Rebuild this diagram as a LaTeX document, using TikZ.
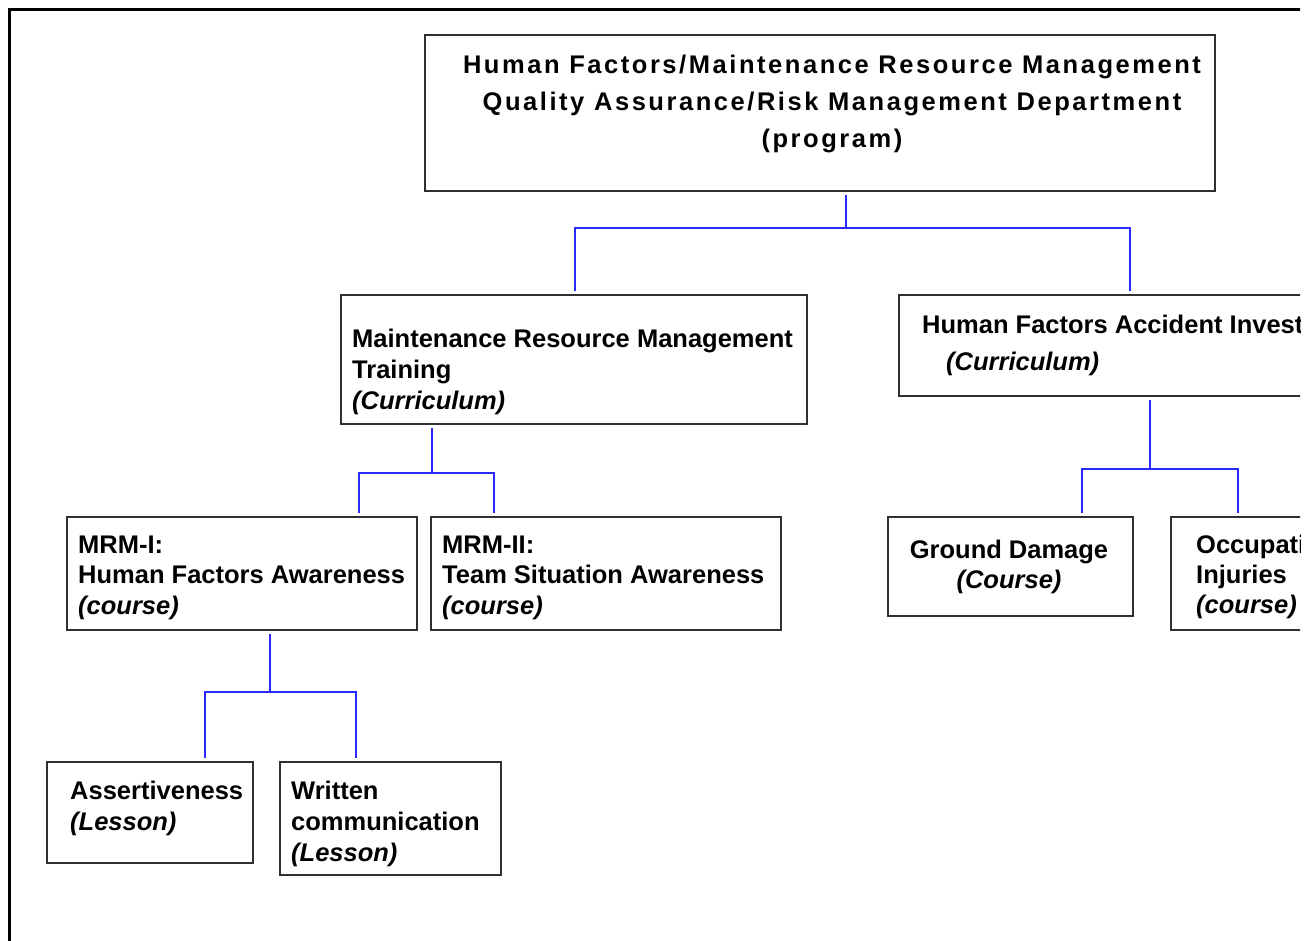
\documentclass[tikz,border=0pt]{standalone}
\usepackage{fontspec}
\setmainfont{Liberation Sans}
\newfontfamily\headfont[LetterSpace=10]{Liberation Sans}
\definecolor{boxline}{RGB}{48,48,48}
\definecolor{linkblue}{RGB}{40,40,255}
% stacked lines with a fixed baseline pitch; the first line carries the baseline
\newcommand\rowsL[2]{\vtop{\baselineskip=#1\relax\lineskiplimit=-50pt\halign{##\hfil\cr#2\crcr}}}
\newcommand\rowsC[2]{\vtop{\baselineskip=#1\relax\lineskiplimit=-50pt\halign{\hfil##\hfil\cr#2\crcr}}}
\begin{document}
\begin{tikzpicture}[x=1pt,y=-1pt,
  box/.style={draw=boxline,line width=2pt,inner sep=0pt,anchor=north west},
  boxtext/.style={inner sep=0pt,anchor=base west,font=\fontsize{25.5}{30}\selectfont\bfseries},
  conn/.style={draw=linkblue,line width=2.2pt,shorten <=3pt,shorten >=3pt}]
\useasboundingbox (0,0) rectangle (1314,940);
\begin{scope}
\clip (0,0) rectangle (1300,940);
% outer frame
\draw[line width=3pt] (9.5,980) -- (9.5,9.5) -- (1340,9.5);

% boxes
\node[box,minimum width=790,minimum height=156] (top) at (424,34) {};
\node[box,minimum width=466,minimum height=129] (mrm) at (340,294) {};
\node[box,minimum width=480,minimum height=101] (hfa) at (898,294) {};
\node[box,minimum width=350,minimum height=113] (mrm1) at (66,516) {};
\node[box,minimum width=350,minimum height=113] (mrm2) at (430,516) {};
\node[box,minimum width=245,minimum height=99] (gd) at (887,516) {};
\node[box,minimum width=250,minimum height=113] (occ) at (1170,516) {};
\node[box,minimum width=206,minimum height=101] (asr) at (46,761) {};
\node[box,minimum width=221,minimum height=113] (wrc) at (279,761) {};

% texts
\node[boxtext,anchor=base,font=\headfont\fontsize{25.5}{37}\selectfont\bfseries] (topT) at (832,73)
  {\rowsC{37pt}{Human Factors/Maintenance Resource Management\cr Quality Assurance/Risk Management Department\cr (program)}};
\node[boxtext] (mrmT) at (352,347)
  {\rowsL{31pt}{Maintenance Resource Management\cr Training\cr \textit{(Curriculum)}}};
\node[boxtext] (hfaT) at (922,333)
  {\rowsL{37pt}{Human Factors Accident Investigation\cr \hspace*{24pt}\textit{(Curriculum)}}};
\node[boxtext] (mrm1T) at (78,553)
  {\rowsL{30.5pt}{MRM-I:\cr Human Factors Awareness\cr \textit{(course)}}};
\node[boxtext] (mrm2T) at (442,553)
  {\rowsL{30.5pt}{MRM-II:\cr Team Situation Awareness\cr \textit{(course)}}};
\node[boxtext,anchor=base] (gdT) at (1009,558)
  {\rowsC{30pt}{Ground Damage\cr \textit{(Course)}}};
\node[boxtext] (occT) at (1196,553)
  {\rowsL{30pt}{Occupational\cr Injuries\cr \textit{(course)}}};
\node[boxtext] (asrT) at (70,799)
  {\rowsL{31pt}{Assertiveness\cr \textit{(Lesson)}}};
\node[boxtext] (wrcT) at (291,799)
  {\rowsL{31pt}{Written\cr communication\cr \textit{(Lesson)}}};

% junction points of the connectors
\coordinate (j1) at (846,228);
\coordinate (j1l) at (575,228);
\coordinate (j1r) at (1130,228);
\coordinate (j2) at (432,473);
\coordinate (j2l) at (359,473);
\coordinate (j2r) at (494,473);
\coordinate (j3) at (1150,469);
\coordinate (j3l) at (1082,469);
\coordinate (j3r) at (1238,469);
\coordinate (j4) at (270,692);
\coordinate (j4l) at (205,692);
\coordinate (j4r) at (356,692);

% connectors
\draw[conn,shorten >=0pt] (top.south -| j1) -- (j1);
\draw[conn] (mrm.north -| j1l) -- (j1l) -- (j1r) -- (hfa.north -| j1r);
\draw[conn,shorten >=0pt] (mrm.south -| j2) -- (j2);
\draw[conn] (mrm1.north -| j2l) -- (j2l) -- (j2r) -- (mrm2.north -| j2r);
\draw[conn,shorten >=0pt] (hfa.south -| j3) -- (j3);
\draw[conn] (gd.north -| j3l) -- (j3l) -- (j3r) -- (occ.north -| j3r);
\draw[conn,shorten >=0pt] (mrm1.south -| j4) -- (j4);
\draw[conn] (asr.north -| j4l) -- (j4l) -- (j4r) -- (wrc.north -| j4r);
\end{scope}
\end{tikzpicture}
\end{document}
